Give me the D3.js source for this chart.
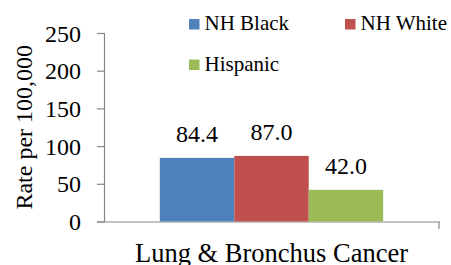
<!DOCTYPE html>
<html><head><meta charset="utf-8">
<script src="https://cdn.jsdelivr.net/npm/d3@7"></script>
</head><body style="margin:0">
<svg id="c" width="451" height="265" font-family="Times New Roman"></svg>
<script>
const categories = ["Lung & Bronchus Cancer"];
const seriesNames = ["NH Black", "NH White", "Hispanic"];
const seriesValues = [84.4, 87.0, 42.0];
const seriesColors = ["#4F81BD", "#C0504D", "#9BBB59"];
const yTicks = [0, 50, 100, 150, 200, 250];

const FONT = "Times New Roman";
const svg = d3.select("#c");
const x0 = 104, x1 = 439, yBottom = 221.5, yTop = 33;
const x = d3.scaleBand().domain(categories).range([x0, x1]).paddingInner(0).paddingOuter(0.25);
const xs = d3.scaleBand().domain(seriesNames).range([0, x.bandwidth()]).padding(0);
const y = d3.scaleLinear().domain([0, 250]).range([yBottom, yTop]);

// y axis
const yAxis = svg.append("g").attr("transform", `translate(${x0},0)`)
  .call(d3.axisLeft(y).tickValues(yTicks).tickSize(7).tickPadding(16).tickFormat(d3.format("d")));
yAxis.attr("font-family", null).attr("font-size", null);
yAxis.select(".domain").attr("stroke", "#868686").attr("stroke-width", 1.2);
yAxis.selectAll(".tick line").attr("stroke", "#868686").attr("stroke-width", 1.2);
yAxis.selectAll(".tick text").attr("fill", "#000").attr("dy", "0.34em")
  .attr("font-family", FONT).attr("font-size", 24);

// x axis
const xAxis = svg.append("g").attr("transform", `translate(0,${yBottom})`)
  .call(d3.axisBottom(d3.scaleLinear().range([x0, x1])).tickValues([]).tickSizeOuter(0));
xAxis.select(".domain").attr("stroke", "#868686").attr("stroke-width", 1.2);
svg.append("line").attr("x1", x1).attr("x2", x1).attr("y1", yBottom).attr("y2", yBottom + 7.5)
  .attr("stroke", "#868686").attr("stroke-width", 1.2);

// bars
const g = svg.append("g").attr("transform", `translate(${x(categories[0])},0)`);
g.selectAll("rect").data(seriesNames).join("rect")
  .attr("x", d => xs(d)).attr("width", xs.bandwidth())
  .attr("y", (d, i) => y(seriesValues[i])).attr("height", (d, i) => yBottom - y(seriesValues[i]))
  .attr("fill", (d, i) => seriesColors[i]);
g.selectAll("text.v").data(seriesNames).join("text").attr("class", "v")
  .attr("x", d => xs(d) + xs.bandwidth() / 2).attr("y", (d, i) => y(seriesValues[i]) - 16)
  .attr("text-anchor", "middle").attr("font-size", 24).attr("font-family", FONT)
  .text((d, i) => seriesValues[i].toFixed(1));

// category label
svg.append("text").attr("x", x(categories[0]) + x.bandwidth() / 2).attr("y", 261.5)
  .attr("text-anchor", "middle").attr("font-size", 26.5).attr("font-family", FONT).text(categories[0]);

// y title
svg.append("text").attr("transform", `translate(31.5,${(yTop + yBottom) / 2}) rotate(-90)`)
  .attr("text-anchor", "middle").attr("font-size", 24).attr("font-family", FONT).text("Rate per 100,000");

// legend
const legPos = [[189, 19], [345, 19], [189, 59.5]];
const leg = svg.append("g").selectAll("g").data(seriesNames).join("g")
  .attr("transform", (d, i) => `translate(${legPos[i][0]},${legPos[i][1]})`);
leg.append("rect").attr("width", 10.5).attr("height", 10.5).attr("fill", (d, i) => seriesColors[i]);
leg.append("text").attr("x", 15.5).attr("y", 11).attr("font-size", 21).attr("font-family", FONT).text(d => d);
</script>
</body></html>
